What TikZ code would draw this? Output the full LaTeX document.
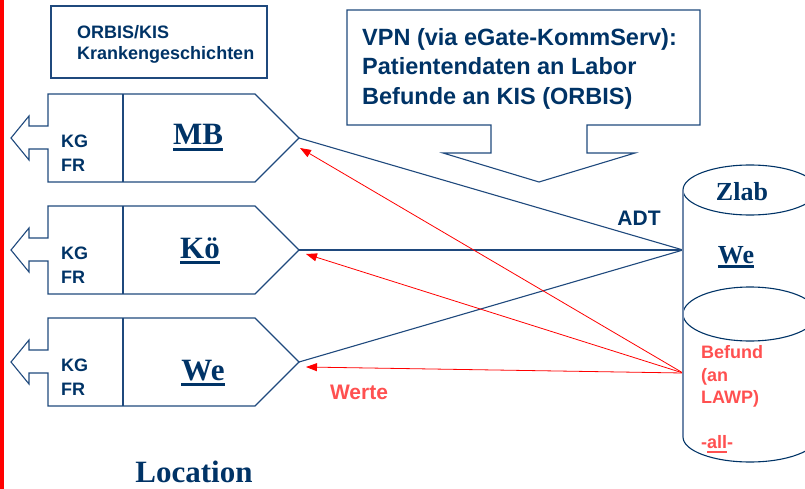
\documentclass[tikz,border=0pt]{standalone}
\usepackage{fontspec}
\setmainfont{Liberation Serif}
\setsansfont{Liberation Sans}
\usetikzlibrary{arrows.meta}
\definecolor{navy}{RGB}{0,51,102}
\definecolor{lineblue}{RGB}{31,73,125}
\definecolor{cylgray}{RGB}{110,135,170}
\definecolor{redtext}{RGB}{255,80,80}
\newcommand\ulbar[3]{\leavevmode\setbox0\hbox{#3}\rlap{\vrule height -#1 depth #2 width \wd0}\box0}
\begin{document}
\begin{tikzpicture}[x=1pt,y=-1pt,
  shapeline/.style={draw=lineblue, line width=1.1pt, line join=miter},
  cylline/.style={draw=navy, line width=1.1pt},
  cyledge/.style={draw=cylgray, line width=1.8pt},
  sanslabel/.style={font=\sffamily\bfseries\fontsize{18}{24}\selectfont, text=navy, inner sep=0pt, align=left},
  biglabel/.style={font=\sffamily\bfseries\fontsize{21}{24}\selectfont, text=navy, inner sep=0pt},
  seriflabel/.style={font=\rmfamily\bfseries\fontsize{31}{36}\selectfont, text=navy, inner sep=0pt},
  cyllabel/.style={font=\rmfamily\bfseries\fontsize{26}{30}\selectfont, text=navy, inner sep=0pt},
  adtline/.style={draw=lineblue, line width=1.1pt},
  werteline/.style={draw=red, line width=0.8pt, -{Triangle[length=11pt,width=8pt]}}
]
\useasboundingbox (0,0) rectangle (805,489);
\clip (0,0) rectangle (805,489);
% red bar
\fill[red] (0,0) rectangle (3.5,489);

% ORBIS box
\draw[shapeline] (51,6) rectangle (267,78);
\node[sanslabel, anchor=north west, font=\sffamily\bfseries\fontsize{18}{21}\selectfont] (orbis) at (77,25) {ORBIS/KIS\\Krankengeschichten};

% VPN callout
\draw[shapeline] (347,10) -- (700,10) -- (700,125) -- (587,125) -- (587,153) -- (635,153)
  -- (539,182) -- (443,153) -- (491,153) -- (491,125) -- (347,125) -- cycle;
\node[sanslabel, anchor=north west, font=\sffamily\bfseries\fontsize{23.5}{29.5}\selectfont] (vpn) at (362,28)
  {VPN (via eGate-KommServ):\\Patientendaten an Labor\\Befunde an KIS (ORBIS)};

% location shapes
\foreach \cy/\nm in {138/mb,250/ko,362/we}{
  \begin{scope}[shift={(0,\cy)}]
    \draw[shapeline] (11,0) -- (29,-22) -- (29,-12) -- (48,-12) -- (48,-44) -- (255,-44) -- (299,0)
      -- (255,44) -- (48,44) -- (48,11) -- (29,11) -- (29,22) -- cycle;
    \draw[shapeline] (123,-44) -- (123,44);
    \node[sanslabel, anchor=north west] (kg\nm) at (61,-3) {KG\\FR};
    \coordinate (tip\nm) at (299,0);
  \end{scope}
}
\node[seriflabel, anchor=base] (mb) at (198,145) {\ulbar{3pt}{6pt}{MB}};
\node[seriflabel, anchor=base] (ko) at (200,258) {\ulbar{3pt}{6pt}{Kö}};
\node[seriflabel, anchor=base] (we) at (203,380) {\ulbar{2.5pt}{5.5pt}{We}};
\node[seriflabel, anchor=base] (loc) at (194,482) {Location};

% cylinder
\coordinate (zin) at (683,250);
\coordinate (zout) at (683,373);
\coordinate (arrmb) at (300,148);
\coordinate (arrko) at (306,254);
\coordinate (arrwe) at (306,367);

\draw[adtline] (tipmb) -- (zin);
\draw[adtline] (tipko) -- (zin);
\draw[adtline] (tipwe) -- (zin);
\draw[werteline] (zout) -- (arrmb);
\draw[werteline] (zout) -- (arrko);
\draw[werteline] (zout) -- (arrwe);

\draw[cylline] (750,190) ellipse [x radius=67, y radius=25];
\draw[cylline] (750,314) ellipse [x radius=67, y radius=27];
\draw[cylline] (683,437) arc[start angle=180, end angle=0, x radius=67, y radius=25];
\draw[cyledge] (683,190) -- (683,437);
\draw[cyledge] (817,190) -- (817,437);

\node[cyllabel] (zlab) at (742,192) {Zlab};
\node[cyllabel, anchor=base] (zwe) at (736,263) {\ulbar{1.5pt}{4.5pt}{We}};
\node[sanslabel, text=redtext, anchor=north west, font=\sffamily\bfseries\fontsize{18}{22.5}\selectfont] (befund) at (701,345.5)
  {Befund\\(an\\LAWP)\\[22.5pt]-\ulbar{2pt}{4pt}{all}-};

\node[biglabel] (adt) at (639,218) {ADT};
\node[biglabel, text=redtext] (werte) at (359,392) {Werte};
\end{tikzpicture}
\end{document}
